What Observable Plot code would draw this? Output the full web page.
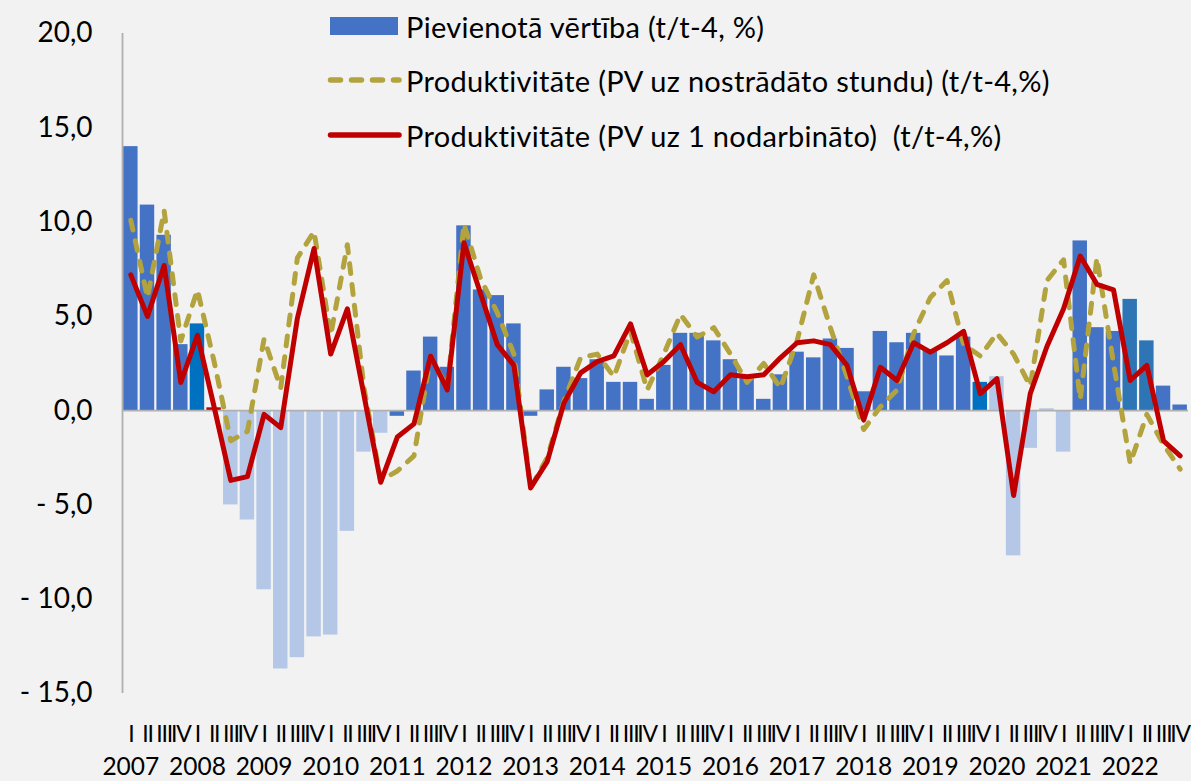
<!DOCTYPE html>
<html><head><meta charset="utf-8">
<script src="https://cdn.jsdelivr.net/npm/d3@7"></script>
<script src="https://cdn.jsdelivr.net/npm/@observablehq/plot@0.6"></script>
<style>
body{margin:0;background:#f2f2f2;font-family:Lato,sans-serif;}
#wrap{position:relative;width:1191px;height:781px;background:#f2f2f2;overflow:hidden}
.item{position:absolute;left:326px;height:30px;display:flex;align-items:center;font-size:29px;letter-spacing:0.3px;color:#000;white-space:pre;font-family:Lato,sans-serif}
.item svg{flex:none}
.item span{margin-left:4px}
g.qlab text{letter-spacing:-1.2px}
</style></head><body>
<div id="wrap"><div id="chart"></div><div id="legend"></div></div>
<script>
const years = ["2007","2008","2009","2010","2011","2012","2013","2014","2015","2016","2017","2018","2019","2020","2021","2022"];
const quarters = ["I","II","III","IV"];
// Pievienotā vērtība (t/t-4, %)
const valueAdded = [14.0,10.9,9.3,3.5, 4.6,0.15,-5.0,-5.8, -9.5,-13.7,-13.1,-12.0, -11.9,-6.4,-2.2,-1.2,
  -0.3,2.1,3.9,2.3, 9.8,6.4,6.1,4.6, -0.3,1.1,2.3,1.7, 2.7,1.5,1.5,0.6,
  2.4,4.1,4.1,3.7, 2.7,1.7,0.6,1.9, 3.1,2.8,3.8,3.3, 1.0,4.2,3.6,4.1,
  3.2,2.9,3.9,1.5, 1.8,-7.7,-2.0,0.1, -2.2,9.0,4.4,4.2, 5.9,3.7,1.3,0.3];
// Produktivitāte (PV uz nostrādāto stundu)
const perHour = [10.1,6.0,10.6,3.7, 6.4,2.6,-1.6,-1.1, 3.8,1.2,8.1,9.5, 4.0,8.8,1.2,-3.7,
  -3.2,-2.4,2.9,1.2, 9.9,7.0,5.2,3.0, -4.1,-2.5,0.5,2.8, 3.0,1.8,4.2,1.1,
  3.0,5.1,3.9,4.4, 3.0,1.5,2.5,1.2, 3.7,7.2,4.4,1.8, -1.0,0.2,1.1,4.1,
  6.0,6.9,3.5,2.9, 4.1,3.0,1.3,6.9, 8.0,0.6,8.1,2.5, -2.8,-0.2,-1.8,-3.1];
// Produktivitāte (PV uz 1 nodarbināto)
const perEmployee = [7.2,5.0,7.7,1.5, 4.0,0.2,-3.7,-3.5, -0.2,-0.9,4.9,8.6, 3.0,5.4,0.8,-3.8,
  -1.4,-0.7,2.9,1.1, 8.9,6.2,3.5,2.4, -4.1,-2.7,0.4,2.0, 2.6,2.9,4.6,1.9,
  2.6,3.5,1.5,1.0, 1.9,1.8,1.9,2.8, 3.6,3.7,3.5,2.4, -0.5,2.3,1.6,3.6,
  3.1,3.6,4.2,0.9, 1.7,-4.5,0.9,3.4, 5.4,8.2,6.7,6.4, 1.6,2.4,-1.6,-2.4];
const lightBars = [6,7,8,9,10,11,12,13,14,15,52,53,54,55,56];
const darkBars = [4,51];
const midBars = [60,61];
const redBars = [5];
const legendLabels = ["Pievienotā vērtība (t/t-4, %)",
  "Produktivitāte (PV uz nostrādāto stundu) (t/t-4,%)",
  "Produktivitāte (PV uz 1 nodarbināto)  (t/t-4,%)"];
const yTicks = [-15,-10,-5,0,5,10,15,20];

const C_BAR = "#4472c4", C_LIGHT = "#b4c7e7", C_DARK = "#0070c0", C_MID = "#2e75b6", C_RED = "#c00000", C_OLIVE = "#b3a33e";

const bars = valueAdded.map((v, i) => ({
  i, v,
  fill: redBars.includes(i) ? C_RED : lightBars.includes(i) ? C_LIGHT : darkBars.includes(i) ? C_DARK : midBars.includes(i) ? C_MID : C_BAR
}));
const idx = d3.range(valueAdded.length);
const fmt = d => (d < 0 ? "- " : "") + Math.abs(d).toFixed(1).replace(".", ",");

const chart = Plot.plot({
  width: 1191, height: 781,
  marginLeft: 122, marginRight: 3, marginTop: 33, marginBottom: 88,
  style: {background: "#f2f2f2", fontFamily: "Lato, sans-serif", color: "#000"},
  x: {type: "linear", domain: [-0.5, valueAdded.length - 0.5], axis: null},
  y: {domain: [-15, 20], axis: null},
  marks: [
    Plot.rectY(bars, {x1: d => d.i - 0.5, x2: d => d.i + 0.5, y1: 0, y2: "v", fill: "fill", insetLeft: 1.1, insetRight: 1.1}),
    Plot.ruleY([0], {stroke: "#b0b0b0", strokeWidth: 1.8}),
    Plot.ruleX([-0.5], {stroke: "#b0b0b0", strokeWidth: 1.8}),
    Plot.lineY(perHour, {x: (d, i) => i, y: d => d, stroke: C_OLIVE, strokeWidth: 5, strokeDasharray: "10,11", strokeLinecap: "round", strokeLinejoin: "round"}),
    Plot.lineY(perEmployee, {x: (d, i) => i, y: d => d, stroke: C_RED, strokeWidth: 5, strokeLinecap: "round", strokeLinejoin: "round"}),
    Plot.axisY({ticks: yTicks, tickFormat: fmt, tickSize: 0, tickPadding: 30, fontSize: 28, label: null}),
    Plot.axisX({ticks: idx, tickFormat: i => quarters[i % 4], tickSize: 0, tickPadding: 32, fontSize: 23, label: null, className: "qlab"}),
    Plot.axisX({ticks: idx.filter(i => i % 4 === 0), tickFormat: i => years[i / 4], tickSize: 0, tickPadding: 64, fontSize: 24.5, label: null})
  ]
});
document.getElementById("chart").appendChild(chart);

const legend = document.getElementById("legend");
const centers = [26, 80, 135];
const swatches = [
  `<svg width="76" height="30"><rect x="4" y="6" width="68" height="18" fill="${C_BAR}"/></svg>`,
  `<svg width="76" height="30"><line x1="4.5" x2="73" y1="15" y2="15" stroke="${C_OLIVE}" stroke-width="5.5" stroke-dasharray="10,11" stroke-linecap="round"/></svg>`,
  `<svg width="76" height="30"><line x1="4.5" x2="73" y1="15" y2="15" stroke="${C_RED}" stroke-width="5.5" stroke-linecap="round"/></svg>`
];
legendLabels.forEach((t, k) => {
  const d = document.createElement("div");
  d.className = "item";
  d.style.top = (centers[k] - 15) + "px";
  d.innerHTML = swatches[k];
  const s = document.createElement("span");
  s.textContent = t;
  d.appendChild(s);
  legend.appendChild(d);
});
</script>
</body></html>
